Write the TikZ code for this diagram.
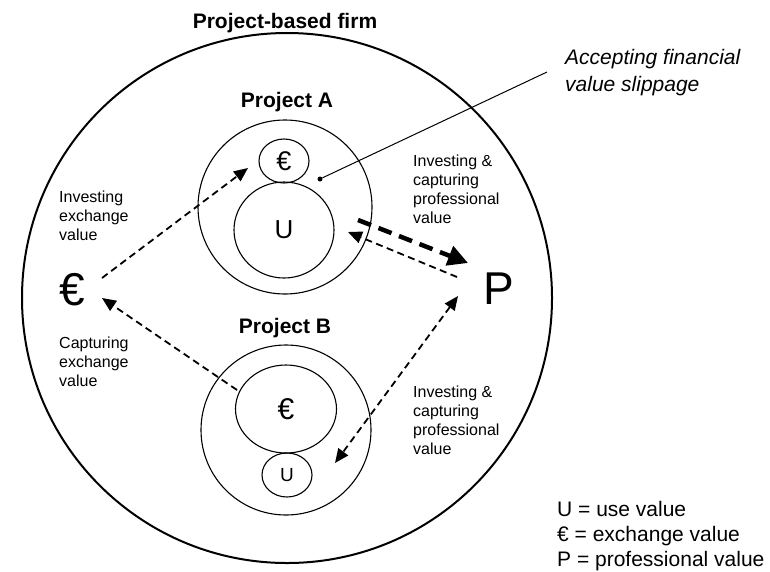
\documentclass[tikz,border=0pt]{standalone}
\usepackage{fontspec}
\setmainfont{Liberation Sans}
\usetikzlibrary{arrows.meta,shapes.geometric}

\begin{document}
\begin{tikzpicture}[x=1pt, y=-1pt,
    ring/.style={ellipse, draw, line width=1.1pt, inner sep=0pt},
    flow/.style={line width=1.8pt, dash pattern=on 7pt off 4.5pt},
    tip/.style={-{Triangle[length=14pt,width=12pt]}},
    bigflow/.style={line width=4.5pt, dash pattern=on 14pt off 8pt, -{Triangle[length=20pt,width=20pt]}},
    note/.style={align=left, anchor=north west, inner sep=0pt, font=\fontsize{16}{19}\selectfont},
    title/.style={anchor=base, inner sep=0pt, font=\bfseries\fontsize{21}{25}\selectfont}]
    \useasboundingbox (0,0) rectangle (770,571);

    % the firm
    \draw[line width=2pt] (287,298) circle[radius=265pt];
    \node[title] (firm) at (285,28) {Project-based firm};

    % project A
    \node[ring, minimum size=174pt] (A) at (285,207) {};
    \node[title] (titleA) at (287,107) {Project A};
    \node[ring, minimum width=50pt, minimum height=44pt, font=\fontsize{27}{30}\selectfont] (eurA) at (284,161) {€};
    \node[ring, minimum width=100pt, minimum height=96pt, font=\fontsize{26}{30}\selectfont] (useA) at (284,230) {U};

    % project B
    \node[ring, minimum size=170pt] (B) at (286,430) {};
    \node[title] (titleB) at (285,333) {Project B};
    \node[ring, minimum width=101pt, minimum height=88pt, font=\fontsize{30}{34}\selectfont] (eurB) at (286,409) {€};
    \node[ring, minimum width=50pt, minimum height=44pt, font=\fontsize{19}{23}\selectfont] (useB) at (287,475) {U};

    % exchange and professional value
    \node[font=\fontsize{46}{52}\selectfont] (eur) at (72,290) {€};
    \node[font=\fontsize{46}{52}\selectfont] (P) at (499,289) {P};

    % end points of the flows
    \coordinate (eurOut) at (102,278);
    \coordinate (eurIn) at (102,298);
    \coordinate (toA) at (248,168);
    \coordinate (fromB) at (237,390);
    \coordinate (outA) at (358,220);
    \coordinate (inA) at (348,232);
    \coordinate (toP) at (468,263);
    \coordinate (fromP) at (457,277);
    \coordinate (topB) at (458,296);
    \coordinate (inB) at (335,463);

    \draw[flow, tip] (eurOut) -- (toA);
    \draw[flow, tip] (fromB) -- (eurIn);
    \draw[bigflow] (outA) -- (toP);
    \draw[flow, tip] (fromP) -- (inA);
    \draw[flow, {Triangle[length=14pt,width=12pt]}-{Triangle[length=14pt,width=12pt]}] (topB) -- (inB);

    % labels
    \node[note] (investE) at (59,191) {Investing\\exchange\\value};
    \node[note] (captureE) at (59,337) {Capturing\\exchange\\value};
    \node[note] (profA) at (413,155) {Investing \&\\capturing\\professional\\value};
    \node[note] (profB) at (413,386) {Investing \&\\capturing\\professional\\value};

    % slippage
    \node[circle, fill, inner sep=0pt, minimum size=5pt] (dot) at (320,179) {};
    \node[note, font=\itshape\fontsize{21}{27}\selectfont] (slip) at (565,49.5) {Accepting financial\\value slippage};
    \coordinate (slipEnd) at (547,72);
    \draw[line width=1pt] (dot) -- (slipEnd);

    % legend
    \node[note, font=\fontsize{21}{25}\selectfont] (legend) at (557,501) {U = use value\\€ = exchange value\\P = professional value};
\end{tikzpicture}
\end{document}
